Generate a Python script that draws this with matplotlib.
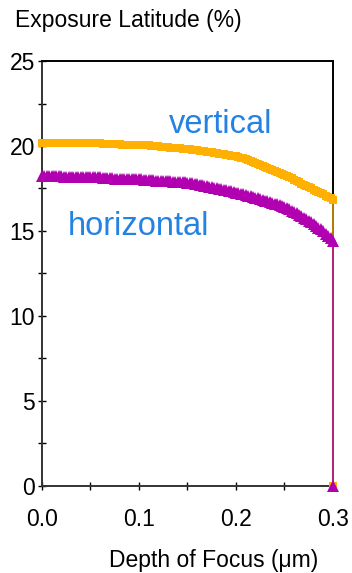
import matplotlib.pyplot as plt
from matplotlib.ticker import MultipleLocator

# Exposure latitude vs depth of focus

DOF = [
    0.0000, 0.0025, 0.0050, 0.0075, 0.0100, 0.0125, 0.0150, 0.0175, 0.0200, 0.0225,
    0.0250, 0.0275, 0.0300, 0.0325, 0.0350, 0.0375, 0.0400, 0.0425, 0.0450, 0.0475,
    0.0500, 0.0525, 0.0550, 0.0575, 0.0600, 0.0625, 0.0650, 0.0675, 0.0700, 0.0725,
    0.0750, 0.0775, 0.0800, 0.0825, 0.0850, 0.0875, 0.0900, 0.0925, 0.0950, 0.0975,
    0.1000, 0.1025, 0.1050, 0.1075, 0.1100, 0.1125, 0.1150, 0.1175, 0.1200, 0.1225,
    0.1250, 0.1275, 0.1300, 0.1325, 0.1350, 0.1375, 0.1400, 0.1425, 0.1450, 0.1475,
    0.1500, 0.1525, 0.1550, 0.1575, 0.1600, 0.1625, 0.1650, 0.1675, 0.1700, 0.1725,
    0.1750, 0.1775, 0.1800, 0.1825, 0.1850, 0.1875, 0.1900, 0.1925, 0.1950, 0.1975,
    0.2000, 0.2025, 0.2050, 0.2075, 0.2100, 0.2125, 0.2150, 0.2175, 0.2200, 0.2225,
    0.2250, 0.2275, 0.2300, 0.2325, 0.2350, 0.2375, 0.2400, 0.2425, 0.2450, 0.2475,
    0.2500, 0.2525, 0.2550, 0.2575, 0.2600, 0.2625, 0.2650, 0.2675, 0.2700, 0.2725,
    0.2750, 0.2775, 0.2800, 0.2825, 0.2850, 0.2875, 0.2900, 0.2925, 0.2950, 0.2975,
    0.3000, 0.3000,
]
VERTICAL = [
    20.20, 20.20, 20.20, 20.20, 20.20, 20.20, 20.20, 20.20, 20.20, 20.20,
    20.20, 20.20, 20.20, 20.19, 20.19, 20.19, 20.19, 20.18, 20.18, 20.18,
    20.18, 20.17, 20.17, 20.16, 20.16, 20.14, 20.13, 20.11, 20.10, 20.10,
    20.10, 20.09, 20.09, 20.08, 20.08, 20.08, 20.08, 20.08, 20.08, 20.07,
    20.07, 20.06, 20.05, 20.04, 20.03, 20.01, 20.00, 19.99, 19.98, 19.96,
    19.95, 19.93, 19.92, 19.91, 19.90, 19.88, 19.87, 19.86, 19.85, 19.83,
    19.82, 19.80, 19.78, 19.76, 19.74, 19.72, 19.70, 19.68, 19.66, 19.64,
    19.62, 19.60, 19.58, 19.55, 19.53, 19.51, 19.49, 19.46, 19.44, 19.42,
    19.40, 19.36, 19.32, 19.27, 19.22, 19.17, 19.12, 19.06, 19.01, 18.95,
    18.90, 18.84, 18.79, 18.73, 18.67, 18.61, 18.55, 18.49, 18.43, 18.36,
    18.30, 18.23, 18.16, 18.09, 18.02, 17.94, 17.87, 17.79, 17.72, 17.65,
    17.58, 17.51, 17.44, 17.37, 17.30, 17.23, 17.16, 17.08, 17.01, 16.93,
    16.85, 0.0,
]
HORIZONTAL = [
    18.22, 18.22, 18.22, 18.21, 18.21, 18.21, 18.21, 18.21, 18.21, 18.20,
    18.20, 18.20, 18.20, 18.20, 18.20, 18.20, 18.20, 18.20, 18.20, 18.19,
    18.19, 18.18, 18.17, 18.16, 18.15, 18.13, 18.12, 18.11, 18.10, 18.09,
    18.08, 18.07, 18.06, 18.05, 18.05, 18.05, 18.05, 18.05, 18.05, 18.04,
    18.04, 18.03, 18.02, 18.01, 18.00, 17.99, 17.98, 17.97, 17.96, 17.95,
    17.95, 17.94, 17.93, 17.92, 17.91, 17.90, 17.89, 17.88, 17.87, 17.86,
    17.85, 17.82, 17.80, 17.77, 17.75, 17.72, 17.69, 17.66, 17.63, 17.60,
    17.57, 17.54, 17.51, 17.48, 17.45, 17.42, 17.39, 17.36, 17.33, 17.29,
    17.26, 17.22, 17.19, 17.15, 17.12, 17.08, 17.04, 17.00, 16.96, 16.92,
    16.88, 16.83, 16.79, 16.74, 16.70, 16.65, 16.60, 16.56, 16.52, 16.48,
    16.44, 16.36, 16.28, 16.20, 16.12, 16.03, 15.95, 15.86, 15.78, 15.69,
    15.60, 15.51, 15.42, 15.31, 15.20, 15.09, 14.98, 14.85, 14.72, 14.56,
    14.40, 0.0,
]
X_TICKS = [0.0, 0.1, 0.2, 0.3]
X_TICK_LABELS = ["0.0", "0.1", "0.2", "0.3"]
Y_TICKS = [0, 5, 10, 15, 20, 25]

ORANGE = "#FFB000"
MAGENTA = "#B000B0"
BLUE = "#2382E2"

plt.rcParams["font.family"] = ["Liberation Sans", "DejaVu Sans"]

fig = plt.figure(figsize=(3.52, 5.73), dpi=100)
ax = fig.add_axes([0.119, 0.152, 0.827, 0.7415])

ax.plot(DOF, VERTICAL, color=ORANGE, marker="s", markersize=6.2, lw=1,
        markeredgewidth=0, clip_on=False, zorder=4)
ax.plot(DOF, HORIZONTAL, color=MAGENTA, marker="^", markersize=8.5, lw=1,
        markeredgewidth=0, clip_on=False, zorder=5)

ax.text(0.1845, 20.76, "vertical", color=BLUE, fontsize=23.5, ha="center",
        va="baseline")
ax.text(0.099, 14.76, "horizontal", color=BLUE, fontsize=23.5, ha="center",
        va="baseline")

ax.set_xlim(0, 0.3)
ax.set_ylim(0, 25)
ax.set_xticks(X_TICKS)
ax.set_xticklabels(X_TICK_LABELS)
ax.set_yticks(Y_TICKS)
ax.xaxis.set_minor_locator(MultipleLocator(0.05))
ax.yaxis.set_minor_locator(MultipleLocator(2.5))
ax.tick_params(axis="both", which="both", direction="inout", length=6,
               width=1, labelsize=16.5)
ax.tick_params(axis="x", which="major", pad=13)
ax.tick_params(axis="y", which="major", pad=2)

for side in ["left", "bottom"]:
    ax.spines[side].set_color("#333333")
    ax.spines[side].set_linewidth(1.4)
for side in ["top", "right"]:
    ax.spines[side].set_color("black")
    ax.spines[side].set_linewidth(1.4)

fig.text(15 / 352, 1 - 20 / 573, "Exposure Latitude (%)", fontsize=16.5,
         ha="left", va="center")
fig.text(214 / 352, 1 - 560 / 573, "Depth of Focus (\u03bcm)", fontsize=16.5,
         ha="center", va="center")

fig.savefig("out.png", dpi=100)
plt.close(fig)
